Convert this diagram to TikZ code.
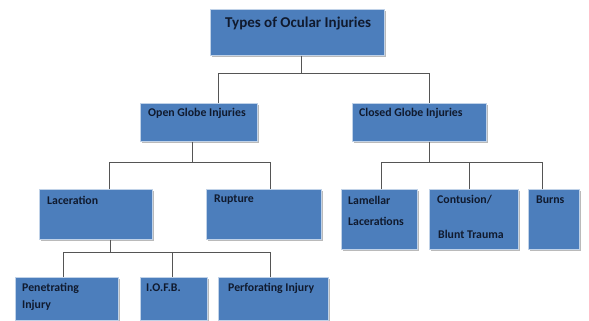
\documentclass[tikz,border=0pt]{standalone}
\usepackage{fontspec}
\setmainfont{Carlito}
\usetikzlibrary{positioning, shadows}
\definecolor{ocblue}{RGB}{76,126,188}
\definecolor{ocnavy}{RGB}{16,26,46}
\definecolor{ocline}{RGB}{85,85,85}

\begin{document}
\begin{tikzpicture}[x=1pt, y=-1pt,
    injury/.style={rectangle, anchor=north west, inner sep=0pt, fill=ocblue, draw=white!65!ocblue, line width=0.7pt,
        drop shadow={shadow xshift=1.8pt, shadow yshift=-2pt, fill=black!45, opacity=0.6}},
    lbl/.style={anchor=west, inner sep=0pt, text=ocnavy, font=\bfseries\fontsize{11.8}{13}\selectfont},
    toplbl/.style={lbl, font=\bfseries\fontsize{15}{17}\selectfont},
    link/.style={draw=ocline, line width=0.8pt}
    ]
    \useasboundingbox (0,0) rectangle (589,321);

    % Boxes
    \node (types) [injury, minimum width=174, minimum height=46] at (210,9) {};
    \node (open) [injury, minimum width=117, minimum height=38] at (140,103) {};
    \node (closed) [injury, minimum width=134, minimum height=38] at (352,103) {};
    \node (lac) [injury, minimum width=113, minimum height=50] at (39,189) {};
    \node (rup) [injury, minimum width=115, minimum height=50] at (206,189) {};
    \node (lam) [injury, minimum width=76, minimum height=60] at (341,189) {};
    \node (cont) [injury, minimum width=89, minimum height=60] at (429,189) {};
    \node (burns) [injury, minimum width=51, minimum height=60] at (528,189) {};
    \node (pen) [injury, minimum width=103, minimum height=43] at (15,277) {};
    \node (iofb) [injury, minimum width=67, minimum height=43] at (140,277) {};
    \node (perf) [injury, minimum width=110, minimum height=43] at (218,277) {};

    % Texts
    \node (types-t) [toplbl] at ([shift={(15,15)}]types.north west) {Types of Ocular Injuries};
    \node (open-t) [lbl] at ([shift={(8,10)}]open.north west) {Open Globe Injuries};
    \node (closed-t) [lbl] at ([shift={(7,10)}]closed.north west) {Closed Globe Injuries};
    \node (lac-t) [lbl] at ([shift={(8,11)}]lac.north west) {Laceration};
    \node (rup-t) [lbl] at ([shift={(8,11)}]rup.north west) {Rupture};
    \node (lam-t) [lbl] at ([shift={(7,11)}]lam.north west) {Lamellar};
    \node (lam-t2) [lbl] at ([shift={(7,32)}]lam.north west) {Lacerations};
    \node (cont-t) [lbl] at ([shift={(8,11)}]cont.north west) {Contusion/};
    \node (cont-t2) [lbl] at ([shift={(9,45)}]cont.north west) {Blunt Trauma};
    \node (burns-t) [lbl] at ([shift={(8,11)}]burns.north west) {Burns};
    \node (pen-t) [lbl] at ([shift={(7,11)}]pen.north west) {Penetrating};
    \node (pen-t2) [lbl] at ([shift={(7,28)}]pen.north west) {Injury};
    \node (iofb-t) [lbl] at ([shift={(6,11)}]iofb.north west) {I.O.F.B.};
    \node (perf-t) [lbl] at ([shift={(10,11)}]perf.north west) {Perforating Injury};

    % Bus lines
    \coordinate (bus1) at (301,73);
    \coordinate (bus1l) at (218,73);
    \coordinate (bus1r) at (429,73);
    \coordinate (bus2) at (192,162);
    \coordinate (bus2l) at (109,162);
    \coordinate (bus2r) at (270,162);
    \coordinate (bus3) at (429,162);
    \coordinate (bus3l) at (381,162);
    \coordinate (bus3m) at (469,162);
    \coordinate (bus3r) at (542,162);
    \coordinate (bus4) at (110,252);
    \coordinate (bus4l) at (63,252);
    \coordinate (bus4m) at (172,252);
    \coordinate (bus4r) at (270,252);

    % Connectors
    \draw [link] (types.south -| bus1) -- (bus1);
    \draw [link] (open.north -| bus1l) |- (bus1r) -- (closed.north -| bus1r);
    \draw [link] (open.south -| bus2) -- (bus2);
    \draw [link] (lac.north -| bus2l) |- (bus2r) -- (rup.north -| bus2r);
    \draw [link] (closed.south -| bus3) -- (bus3);
    \draw [link] (lam.north -| bus3l) |- (bus3r) -- (burns.north -| bus3r);
    \draw [link] (bus3m) -- (cont.north -| bus3m);
    \draw [link] (lac.south -| bus4) -- (bus4);
    \draw [link] (pen.north -| bus4l) |- (bus4r) -- (perf.north -| bus4r);
    \draw [link] (bus4m) -- (iofb.north -| bus4m);

\end{tikzpicture}
\end{document}
